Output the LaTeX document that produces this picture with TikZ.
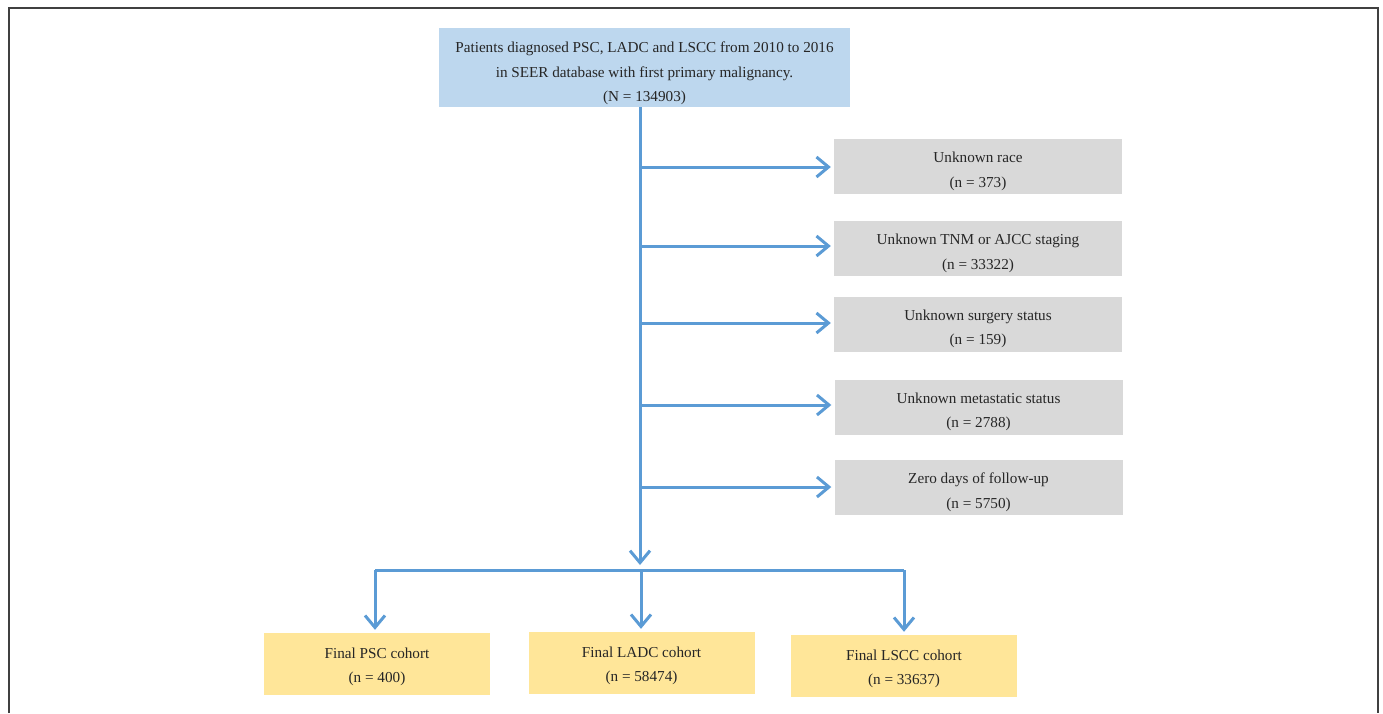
\documentclass[tikz,border=0pt]{standalone}
\usepackage{fontspec}
\setmainfont{Liberation Serif}
\usetikzlibrary{arrows.meta}
\definecolor{topblue}{HTML}{BDD7EE}
\definecolor{boxgray}{HTML}{D9D9D9}
\definecolor{boxyellow}{HTML}{FFE699}
\definecolor{arrblue}{HTML}{5B9BD5}
\definecolor{framegray}{HTML}{404040}
\tikzset{
  txt/.style={font=\fontsize{15.2}{24.5}\selectfont, align=center, inner sep=0pt, text=black!85},
  topbox/.style={rectangle, fill=topblue, inner sep=0pt, minimum width=411pt, minimum height=79pt},
  graybox/.style={rectangle, fill=boxgray, inner sep=0pt, minimum width=288pt, minimum height=55pt},
  yelbox/.style={rectangle, fill=boxyellow, inner sep=0pt, minimum width=226pt, minimum height=62pt},
  conn/.style={draw=arrblue, line width=3pt},
  arr/.style={conn, -{Straight Barb[length=12pt,width=20pt,line width=3pt]}, shorten >=3pt},
}
\begin{document}
\begin{tikzpicture}[x=1pt,y=-1pt]
\useasboundingbox (0,0) rectangle (1383,713);
\draw[framegray, line width=2pt] (9,713) -- (9,8) -- (1378,8) -- (1378,713);

\node[topbox] (top) at (644.5,67.5) {};
\node[txt] (toptxt) at ([yshift=-6pt]top.center) {Patients diagnosed PSC, LADC and LSCC from 2010 to 2016\\in SEER database with first primary malignancy.\\(N = 134903)};

\node[graybox] (g1) at (978,166.5) {};
\node[txt] (g1t) at ([yshift=-5pt]g1.center) {Unknown race\\(n = 373)};
\node[graybox] (g2) at (978,248.5) {};
\node[txt] (g2t) at ([yshift=-5pt]g2.center) {Unknown TNM or AJCC staging\\(n = 33322)};
\node[graybox] (g3) at (978,324) {};
\node[txt] (g3t) at ([yshift=-5pt]g3.center) {Unknown surgery status\\(n = 159)};
\node[graybox] (g4) at (978.5,407) {};
\node[txt] (g4t) at ([yshift=-5pt]g4.center) {Unknown metastatic status\\(n = 2788)};
\node[graybox] (g5) at (978.5,487.5) {};
\node[txt] (g5t) at ([yshift=-5pt]g5.center) {Zero days of follow-up\\(n = 5750)};

\node[yelbox] (psc) at (377,664) {};
\node[txt] (psct) at ([yshift=-3pt]psc.center) {Final PSC cohort\\(n = 400)};
\node[yelbox] (ladc) at (641.5,663) {};
\node[txt] (ladct) at ([yshift=-3pt]ladc.center) {Final LADC cohort\\(n = 58474)};
\node[yelbox] (lscc) at (904,666) {};
\node[txt] (lscct) at ([yshift=-3pt]lscc.center) {Final LSCC cohort\\(n = 33637)};

\coordinate (trunk) at (640,107);
\coordinate (vend) at (640,568);
\coordinate (busL) at (375,570);
\coordinate (busM) at (641,570);
\coordinate (busR) at (904,570);

\draw[arr] (trunk) -- (vend);
\draw[arr] (trunk |- 0,167) -- (g1.west |- 0,167);
\draw[arr] (trunk |- 0,246) -- (g2.west |- 0,246);
\draw[arr] (trunk |- 0,323) -- (g3.west |- 0,323);
\draw[arr] (trunk |- 0,405) -- (g4.west |- 0,405);
\draw[arr] (trunk |- 0,487) -- (g5.west |- 0,487);

\draw[conn] (busL) -- (busR);
\draw[arr] (busL) -- (busL |- psc.north);
\draw[arr] (busM) -- (busM |- ladc.north);
\draw[arr] (busR) -- (busR |- lscc.north);
\end{tikzpicture}
\end{document}
